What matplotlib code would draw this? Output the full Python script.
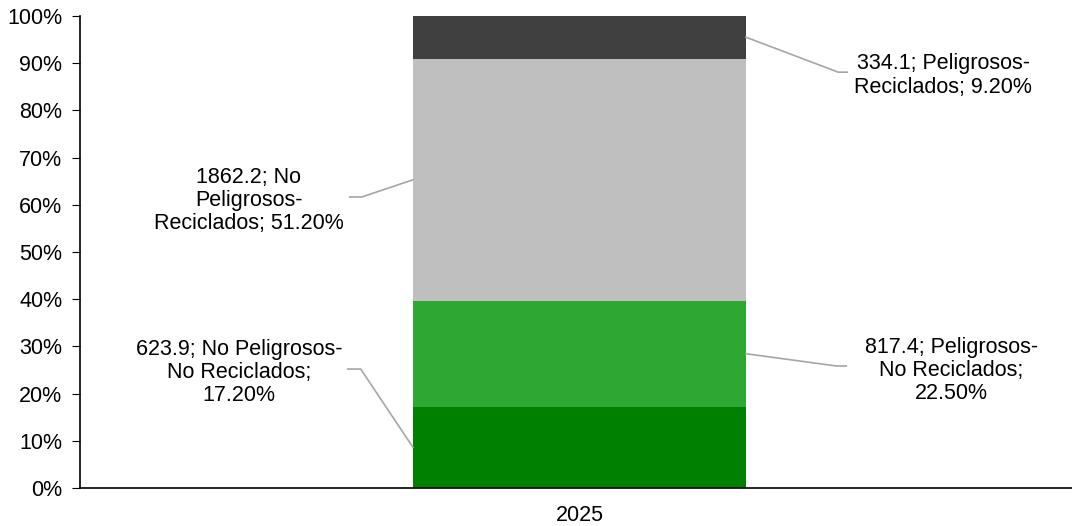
import matplotlib
matplotlib.use("Agg")
import matplotlib.pyplot as plt
from matplotlib.ticker import PercentFormatter

plt.rcParams['font.family'] = ['Liberation Sans', 'DejaVu Sans']

# data
category = "2025"
series_names = ["No Peligrosos-\nNo Reciclados", "Peligrosos-\nNo Reciclados",
                "No Peligrosos-\nReciclados", "Peligrosos-\nReciclados"]
tonnes = [623.9, 817.4, 1862.2, 334.1]
shares = [17.2, 22.5, 51.2, 9.2]
colors = ["#008000", "#2ea832", "#bfbfbf", "#404040"]

label_texts = [
    "623.9; No Peligrosos-\nNo Reciclados;\n17.20%",
    "817.4; Peligrosos-\nNo Reciclados;\n22.50%",
    "1862.2; No\nPeligrosos-\nReciclados; 51.20%",
    "334.1; Peligrosos-\nReciclados; 9.20%",
]
# layout of the data labels: (text x, text y, elbow x, line end x)
label_pos = [
    (-0.341, 24.4, -0.219, -0.232),
    (0.372, 24.9, 0.257, 0.267),
    (-0.331, 61.0, -0.218, -0.230),
    (0.364, 87.4, 0.259, 0.268),
]
line_y = [25.2, 25.85, 61.65, 88.1]

W, H = 1072, 526
fs = 15.5
fig = plt.figure(figsize=(W / 100, H / 100), dpi=100)
ax = fig.add_axes([80 / W, 1 - 488 / H, 999 / W, 472 / H])

bar_w = 1 / 3
bottom = 0
for i, (v, c) in enumerate(zip(shares, colors)):
    ax.bar(0, v, bottom=bottom, width=bar_w, color=c, zorder=2)
    mid = bottom + v / 2
    tx, ty, ex, lx = label_pos[i]
    edge = bar_w / 2 if tx > 0 else -bar_w / 2
    ax.plot([edge, ex, lx], [mid, line_y[i], line_y[i]], color="#a6a6a6",
            lw=1.2, zorder=3, clip_on=False)
    ax.text(tx, ty, label_texts[i], ha="center", va="center", fontsize=fs,
            linespacing=1.13, color="#000000")
    bottom += v

ax.set_xlim(-0.5, 0.5)
ax.set_ylim(0, 100)
ax.set_yticks(range(0, 101, 10))
ax.yaxis.set_major_formatter(PercentFormatter(decimals=0))
ax.set_xticks([0])
ax.set_xticklabels([category])
ax.tick_params(axis="x", length=0, labelsize=fs, pad=12)
ax.tick_params(axis="y", length=5.8, labelsize=fs, direction="out", pad=7)
for s in ["top", "right"]:
    ax.spines[s].set_visible(False)
ax.spines["left"].set_linewidth(1.2)
ax.spines["bottom"].set_linewidth(1.2)

fig.savefig("out.png", dpi=100)
